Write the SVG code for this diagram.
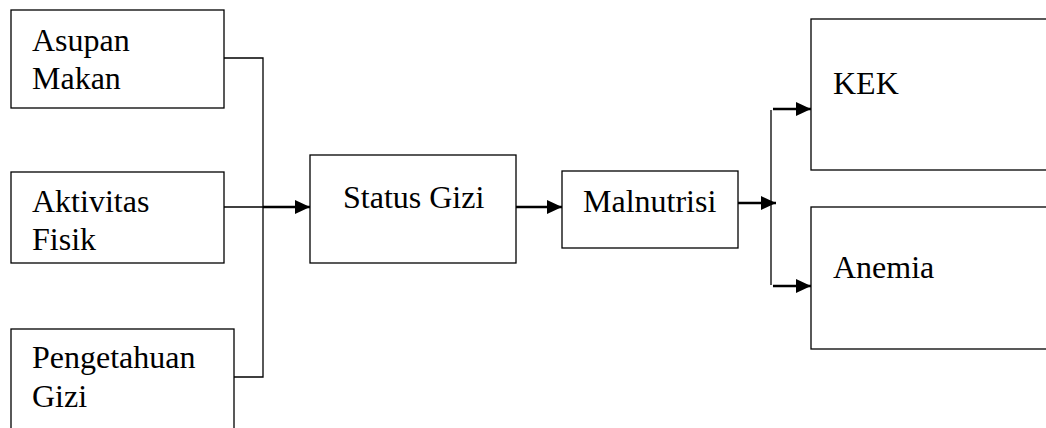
<svg xmlns="http://www.w3.org/2000/svg" width="1046" height="428" viewBox="0 0 1046 428" font-family="'Liberation Serif', 'Times New Roman', serif">
<defs>
<marker id="ah" viewBox="0 0 15 14" refX="15" refY="7" markerWidth="15" markerHeight="14" markerUnits="userSpaceOnUse" orient="auto"><path d="M0,0 L15,7 L0,14 Z" fill="#000"/></marker>
</defs>
<rect width="1046" height="428" fill="#fff"/>
<g id="connectors" fill="none" stroke="#000">
<polyline stroke-width="1.3" points="223,58 263,58 263,377 234,377"/>
<line stroke-width="1.3" x1="224" y1="207" x2="263" y2="207"/>
<line stroke-width="2.6" x1="263" y1="207" x2="310" y2="207" marker-end="url(#ah)"/>
<line stroke-width="2.6" x1="516" y1="207" x2="562" y2="207" marker-end="url(#ah)"/>
<line stroke-width="2.6" x1="738" y1="203" x2="776" y2="203" marker-end="url(#ah)"/>
<line stroke-width="1.3" x1="771" y1="110" x2="771" y2="285"/>
<line stroke-width="2.6" x1="773" y1="109" x2="811" y2="109" marker-end="url(#ah)"/>
<line stroke-width="2.6" x1="773" y1="286" x2="811" y2="286" marker-end="url(#ah)"/>
</g>
<g id="asupan-makan">
<rect x="11" y="10" width="213" height="98" fill="#fff" stroke="#000" stroke-width="1.3"/>
<text x="32" y="51" style="font-family:'Liberation Serif','Times New Roman',serif;font-size:32px">Asupan</text>
<text x="32" y="89" style="font-family:'Liberation Serif','Times New Roman',serif;font-size:32px">Makan</text>
</g>
<g id="aktivitas-fisik">
<rect x="11" y="172" width="213" height="91" fill="#fff" stroke="#000" stroke-width="1.3"/>
<text x="32" y="212" style="font-family:'Liberation Serif','Times New Roman',serif;font-size:32px">Aktivitas</text>
<text x="32" y="250" style="font-family:'Liberation Serif','Times New Roman',serif;font-size:32px">Fisik</text>
</g>
<g id="pengetahuan-gizi">
<rect x="11" y="329" width="223" height="110" fill="#fff" stroke="#000" stroke-width="1.3"/>
<text x="32" y="368" style="font-family:'Liberation Serif','Times New Roman',serif;font-size:32px">Pengetahuan</text>
<text x="32" y="407" style="font-family:'Liberation Serif','Times New Roman',serif;font-size:32px">Gizi</text>
</g>
<g id="status-gizi">
<rect x="310" y="155" width="206" height="108" fill="#fff" stroke="#000" stroke-width="1.3"/>
<text x="343" y="208" style="font-family:'Liberation Serif','Times New Roman',serif;font-size:32px">Status Gizi</text>
</g>
<g id="malnutrisi">
<rect x="562" y="171" width="176" height="77" fill="#fff" stroke="#000" stroke-width="1.3"/>
<text x="583" y="212" style="font-family:'Liberation Serif','Times New Roman',serif;font-size:32px">Malnutrisi</text>
</g>
<g id="kek">
<rect x="811" y="19" width="245" height="151" fill="#fff" stroke="#000" stroke-width="1.3"/>
<text x="833" y="94" style="font-family:'Liberation Serif','Times New Roman',serif;font-size:32px">KEK</text>
</g>
<g id="anemia">
<rect x="811" y="207" width="245" height="142" fill="#fff" stroke="#000" stroke-width="1.3"/>
<text x="833" y="278" style="font-family:'Liberation Serif','Times New Roman',serif;font-size:32px">Anemia</text>
</g>
</svg>
